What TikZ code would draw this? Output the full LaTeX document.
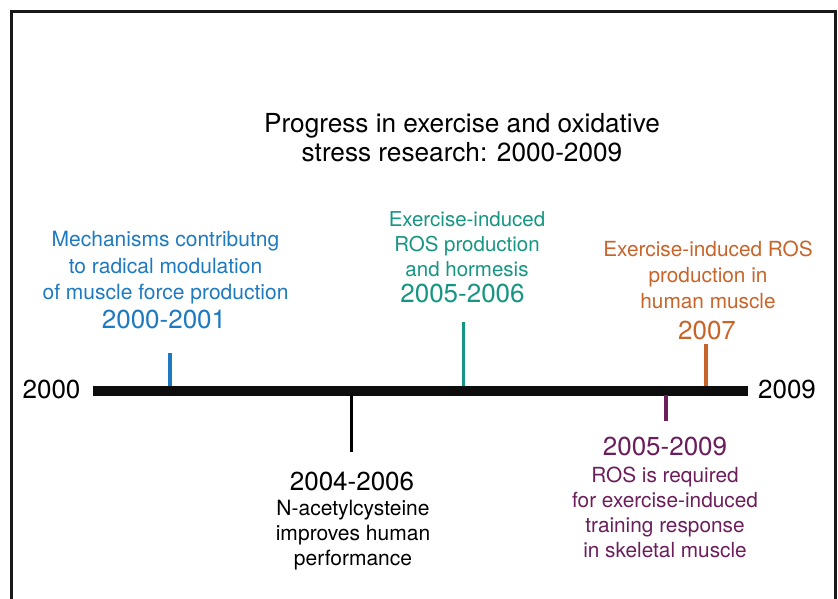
\documentclass[tikz,border=0pt]{standalone}
\usepackage{fontspec}
\setmainfont{TeX Gyre Heros}
\definecolor{modblue}{RGB}{30,122,192}
\definecolor{modteal}{RGB}{22,150,130}
\definecolor{modorange}{RGB}{200,100,42}
\definecolor{modpurple}{RGB}{108,30,92}
\begin{document}
\begin{tikzpicture}[x=1pt,y=-1pt,
  frame/.style={line width=2.7pt, black!90},
  axis/.style={line width=10pt, black!95},
  tickline/.style={line width=3.5pt},
  % multi-line blocks are placed by the baseline of their last line
  desc/.style={anchor=base, inner sep=0pt, align=center},
  yearlabel/.style={anchor=base, inner sep=0pt, font=\fontsize{26}{30}\selectfont}]
\useasboundingbox (0,0) rectangle (838,599);

% open frame around the figure
\draw[frame] (11.3,599) -- (11.3,11.2) -- (835.5,11.2) -- (835.5,599);

% title
\node[desc, font=\fontsize{26.2}{29}\selectfont] (title) at (462,161.7)
  {Progress in exercise and oxidative\\stress research: 2000-2009};

% time axis
\coordinate (axstart) at (93,390.5);
\coordinate (axend) at (748,390.5);
\draw[axis] (axstart) -- (axend);
\node[yearlabel] (y2000) at (51.5,398) {2000};
\node[yearlabel] (y2009) at (787,398) {2009};

% ticks on the axis
\coordinate (b1) at (170,386);   \coordinate (b1e) at (170,353);
\coordinate (b2) at (463.5,386); \coordinate (b2e) at (463.5,322);
\coordinate (b3) at (706,386);   \coordinate (b3e) at (706,344);
\coordinate (b4) at (351.5,395); \coordinate (b4e) at (351.5,452);
\coordinate (b5) at (666,395);   \coordinate (b5e) at (666,421);
\draw[tickline, modblue]   (b1) -- (b1e);
\draw[tickline, modteal]   (b2) -- (b2e);
\draw[tickline, modorange] (b3) -- (b3e);
\draw[tickline, black]     (b4) -- (b4e);
\draw[tickline, modpurple] (b5) -- (b5e);

% 2000-2001
\node[desc, modblue, font=\fontsize{21}{26.3}\selectfont] (d1) at (165.5,299.3)
  {Mechanisms contributng\\to radical modulation\\of muscle force production};
\node[yearlabel, modblue] (yr1) at (164,328) {2000-2001};

% 2005-2006
\node[desc, modteal, font=\fontsize{20.5}{24.7}\selectfont] (d2) at (467,276)
  {Exercise-induced\\ROS production\\and hormesis};
\node[yearlabel, modteal] (yr2) at (462.5,302.7) {2005-2006};

% 2007
\node[desc, modorange, font=\fontsize{20.8}{25.8}\selectfont] (d3) at (708,308.3)
  {Exercise-induced ROS\\production in\\human muscle};
\node[yearlabel, modorange] (yr3) at (707,339) {2007};

% 2004-2006
\node[yearlabel, black] (yr4) at (352,490.7) {2004-2006};
\node[desc, black, font=\fontsize{21}{25}\selectfont] (d4) at (353,565)
  {N-acetylcysteine\\improves human\\performance};

% 2005-2009
\node[yearlabel, modpurple] (yr5) at (665,455) {2005-2009};
\node[desc, modpurple, font=\fontsize{20.8}{25}\selectfont] (d5) at (665,557)
  {ROS is required\\for exercise-induced\\training response\\in skeletal muscle};
\end{tikzpicture}
\end{document}
